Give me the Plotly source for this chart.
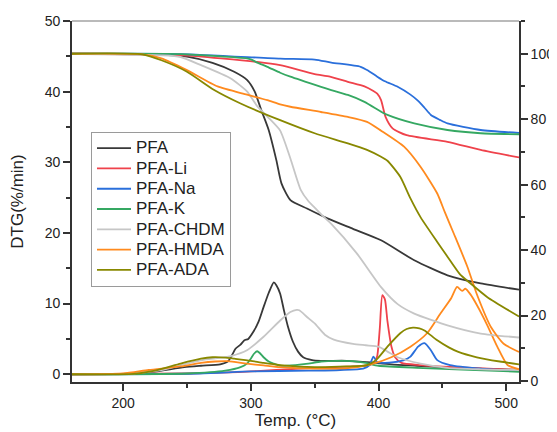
import plotly.graph_objects as go

# ---------------- data ----------------
names = ["PFA", "PFA-Li", "PFA-Na", "PFA-K", "PFA-CHDM", "PFA-HMDA", "PFA-ADA"]
colors = ["#383838", "#EF424B", "#2A6FDB", "#35A862", "#C6C6C6", "#FF8A1E", "#888800"]

# TG curves (right axis, wt %)
tg_pfa_t = [160, 220, 250, 270, 287, 297, 303, 308, 314, 320, 324, 331, 344, 360, 380, 402, 428, 454, 480, 510]
tg_pfa_v = [100, 99.8, 99.1, 97.2, 94.5, 92, 88.5, 83, 76.7, 67.5, 60.4, 55.3, 52.7, 49.7, 46.5, 43, 36.9, 32.3, 29.8, 27.9]

tg_li_t = [160, 245, 305, 323, 350, 362, 376, 389, 396, 399, 402, 405.5, 411, 422, 454, 480, 510]
tg_li_v = [100, 99.6, 97.5, 96.5, 93.8, 93, 91.4, 90, 88.6, 87.8, 85.8, 80.7, 77.2, 75.1, 73.1, 70.6, 68.3]

tg_na_t = [160, 245, 323, 350, 363, 386, 392, 399, 405, 415, 425, 431, 436, 441, 448, 454, 480, 510]
tg_na_v = [100, 99.9, 98.5, 98.2, 97.3, 96, 94.8, 93, 91.6, 89.9, 87.5, 85.6, 83.5, 81.3, 79.8, 78.7, 76.7, 75.8]

tg_k_t = [160, 245, 297, 300, 305, 313, 323, 331, 355, 363, 376, 389, 402, 407, 428, 454, 480, 510]
tg_k_v = [100, 99.9, 98.6, 98.3, 97.3, 96, 94.2, 93, 89.9, 88.9, 87.4, 85.3, 82.3, 81.3, 78.7, 76.7, 75.7, 75.4]

tg_chdm_t = [160, 230, 245, 261, 284, 297, 305, 315, 323, 331, 339, 345, 350, 357, 363, 383, 402, 415, 428, 454, 480, 510]
tg_chdm_v = [100, 99.5, 99, 96.5, 92.5, 88.5, 84, 80, 76.5, 68, 58.5, 55, 53, 50.2, 48, 39, 28.7, 23.5, 20.6, 17, 14.5, 13.3]

tg_hmda_t = [160, 215, 230, 250, 274, 297, 313, 323, 331, 355, 376, 391, 402, 420, 433, 446, 452, 459, 469.5, 477, 488, 498, 510]
tg_hmda_v = [100, 99.8, 98.6, 95, 90, 87.5, 85.8, 84.5, 83.8, 82.2, 80.7, 79.2, 76.5, 71.6, 65.4, 57.3, 51.5, 45, 35, 26.5, 16.5, 11.4, 8.9]

tg_ada_t = [160, 215, 230, 250, 271, 292, 323, 350, 376, 391, 402, 407, 417, 425, 433, 446, 454, 464, 470, 485, 510]
tg_ada_v = [100, 99.8, 98, 94.5, 89, 84.8, 79.7, 75.7, 72.6, 70.6, 68.5, 67.3, 62.4, 55.8, 50, 42.5, 38, 32.5, 30.5, 25.7, 19.7]

# DTG curves (left axis, %/min)
dtg_pfa_t = [160, 200, 222, 248, 261, 276, 282, 285, 288, 292, 295, 298, 302, 306, 310, 314, 318, 320, 323, 326, 329, 333, 337, 341, 348, 355, 375, 391, 410, 430, 460, 510]
dtg_pfa_v = [0, 0.05, 0.3, 1.0, 1.2, 1.4, 1.8, 2.6, 3.6, 4.2, 4.8, 5.0, 6.0, 7.4, 9.5, 11.5, 13.0, 12.6, 11.4, 9.0, 6.8, 4.6, 3.2, 2.4, 2.0, 1.9, 1.9, 1.7, 1.4, 1.2, 0.9, 0.6]

dtg_li_t = [160, 250, 290, 320, 350, 380, 393, 397, 399, 401, 403, 405, 407, 410, 413, 418, 433, 460, 510]
dtg_li_v = [0, 0.1, 0.3, 0.6, 0.9, 1.1, 1.3, 1.8, 2.6, 6.5, 11.2, 10.6, 7.5, 4.0, 2.4, 1.6, 1.3, 1.0, 0.6]

dtg_na_t = [160, 260, 300, 345, 370, 388, 393, 396, 399, 405, 412, 420, 425, 431, 436, 441, 446, 456, 480, 510]
dtg_na_v = [0, 0.1, 0.4, 0.5, 0.6, 0.8, 1.3, 2.5, 1.7, 1.6, 1.7, 2.0, 2.5, 3.9, 4.4, 3.4, 2.0, 1.3, 0.8, 0.5]

dtg_k_t = [160, 250, 280, 292, 297, 300, 302.5, 305, 307, 310, 314, 318, 323, 335, 345, 355, 368, 380, 390, 400, 430, 460, 510]
dtg_k_v = [0, 0.1, 0.5, 1.0, 1.5, 2.2, 2.9, 3.25, 3.0, 2.4, 1.8, 1.5, 1.2, 1.3, 1.5, 1.8, 1.9, 1.85, 1.6, 1.2, 0.9, 0.7, 0.35]

dtg_chdm_t = [160, 200, 230, 250, 265, 275, 285, 297, 310, 323, 331, 336, 338, 344, 350, 358, 365, 380, 390, 400, 407, 415, 433, 454, 480, 510]
dtg_chdm_v = [0, 0.05, 0.6, 1.5, 2.1, 2.3, 2.6, 3.4, 5.3, 7.6, 8.8, 9.1, 9.05, 8.1, 7.2, 5.6, 4.9, 4.3, 4.1, 3.9, 3.2, 2.4, 1.5, 0.9, 0.7, 0.6]

dtg_hmda_t = [160, 200, 220, 245, 261, 272, 282, 297, 310, 323, 350, 376, 394, 410, 425, 438, 448.5, 457, 461.5, 465.5, 468, 472, 477, 485, 493, 501, 510]
dtg_hmda_v = [0, 0.1, 0.6, 1.1, 1.6, 1.8, 1.85, 1.5, 1.25, 1.0, 0.8, 0.85, 1.4, 2.4, 3.9, 5.8, 8.6, 10.8, 12.35, 11.8, 12.1, 11.3, 9.8, 7.0, 3.9, 1.3, 0.7]

dtg_ada_t = [160, 208, 225, 245, 261, 270, 280, 287, 300, 310, 323, 350, 375, 391, 398, 407, 417, 422, 427, 432, 436, 446, 455, 462, 477, 495, 510]
dtg_ada_v = [0, 0.05, 0.5, 1.5, 2.2, 2.4, 2.35, 2.2, 1.9, 1.6, 1.3, 1.0, 1.1, 1.3, 2.0, 3.9, 5.8, 6.4, 6.6, 6.5, 6.2, 4.8, 3.8, 3.2, 2.4, 1.8, 1.4]

tg_series = [(tg_pfa_t, tg_pfa_v), (tg_li_t, tg_li_v), (tg_na_t, tg_na_v), (tg_k_t, tg_k_v),
             (tg_chdm_t, tg_chdm_v), (tg_hmda_t, tg_hmda_v), (tg_ada_t, tg_ada_v)]
dtg_series = [(dtg_pfa_t, dtg_pfa_v), (dtg_li_t, dtg_li_v), (dtg_na_t, dtg_na_v), (dtg_k_t, dtg_k_v),
              (dtg_chdm_t, dtg_chdm_v), (dtg_hmda_t, dtg_hmda_v), (dtg_ada_t, dtg_ada_v)]

FONT = "Liberation Sans, Arial, sans-serif"
fig = go.Figure()

for i, name in enumerate(names):
    t, v = tg_series[i]
    fig.add_trace(go.Scatter(x=t, y=v, yaxis="y2", mode="lines", name=name,
                             legendgroup=name, showlegend=False,
                             line=dict(color=colors[i], width=1.8, shape="spline", smoothing=0.6)))
for i, name in enumerate(names):
    t, v = dtg_series[i]
    fig.add_trace(go.Scatter(x=t, y=v, mode="lines",
                             name='<span style="font-size:17px">%s</span>' % name,
                             legendgroup=name, showlegend=True,
                             line=dict(color=colors[i], width=1.8, shape="spline", smoothing=0.6)))

axis_common = dict(showline=True, linecolor="#333333", linewidth=1.6, ticks="outside",
                   ticklen=7, tickwidth=1.5, tickcolor="#333333", showgrid=False, zeroline=False,
                   automargin=False,
                   tickfont=dict(family=FONT, size=14, color="#222222"))

# the page body adds an 8px offset, so the figure is 8px smaller than the window
fig.update_layout(
    width=549, height=424,
    margin=dict(l=64, r=38, t=13, b=50),
    paper_bgcolor="white", plot_bgcolor="white",
    font=dict(family=FONT, color="#222222"),
    xaxis=dict(range=[160, 510], dtick=100, tick0=0,
               minor=dict(dtick=50, ticks="outside", ticklen=4, tickcolor="#333333", tickwidth=1.5),
               title=dict(text="Temp. (°C)", font=dict(family=FONT, size=17), standoff=5),
               **axis_common),
    yaxis=dict(range=[-1.1, 50], dtick=10, tick0=0,
               minor=dict(dtick=5, ticks="outside", ticklen=4, tickcolor="#333333", tickwidth=1.5),
               title=dict(text="DTG(%/min)", font=dict(family=FONT, size=17), standoff=17),
               **axis_common),
    yaxis2=dict(range=[-0.3, 110], dtick=20, tick0=0, overlaying="y", side="right",
                minor=dict(dtick=10, ticks="outside", ticklen=4, tickcolor="#333333", tickwidth=1.5),
                **axis_common),
    legend=dict(x=0.0425, y=0.6925, xanchor="left", yanchor="top",
                bgcolor="white", bordercolor="#9a9a9a", borderwidth=1,
                font=dict(family=FONT, size=13.3, color="#222222"),
                itemwidth=34, tracegroupgap=0),
    shapes=[dict(type="line", xref="paper", yref="paper", x0=0, x1=1, y0=1, y1=1,
                 line=dict(color="#777777", width=1.2))],
)

fig.write_html("out.html")
